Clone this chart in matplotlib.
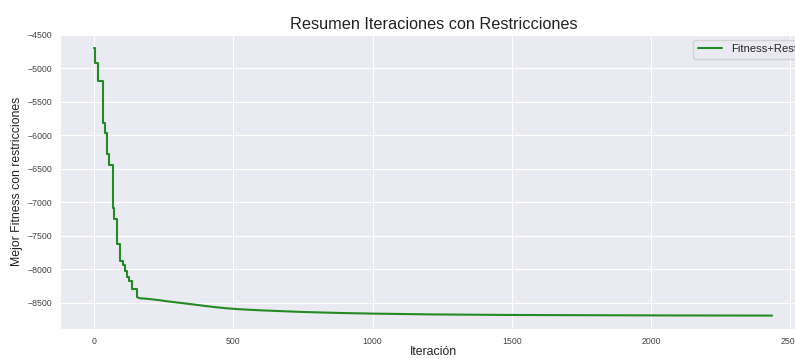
import numpy as np
import seaborn as sns
from matplotlib import pyplot as plt

#Best fitness (with restrictions): big jumps in the first iterations
iter_saltos = [0, 5, 15, 31, 41, 47, 53, 67, 73, 81, 95, 105, 111, 118, 127,
               136, 156]
fit_saltos = [-4690, -4922, -5187, -5810, -5973, -6276, -6450, -7087, -7250,
              -7620, -7869, -7933, -8018, -8107, -8167, -8296, -8415]

#Slow improvement afterwards
iter_cola = [156, 162, 192, 234, 264, 320, 383, 430, 473, 520, 600, 742,
             870, 993, 1200, 1459, 1817, 2100, 2434]
fit_cola = [-8415, -8430, -8440, -8460, -8478, -8505, -8538, -8562, -8580,
            -8595, -8612, -8635, -8650, -8660, -8672, -8680, -8685, -8688,
            -8690]

sns.set_style('darkgrid')
plt.rcParams['font.family'] = ['Liberation Sans', 'DejaVu Sans']

fig = plt.figure(figsize=(7.95, 3.59), dpi=100)
ax = fig.add_axes([0.0755, 0.0836, 0.9405, 0.8214])

verde = '#238b23'
ax.plot(iter_saltos, fit_saltos, color=verde, linewidth=1.5,
        drawstyle='steps-post', label='Fitness+Rest')
ax.plot(iter_cola, fit_cola, color=verde, linewidth=1.5)

ax.set_xlim(-122, 2562)
ax.set_ylim(-8890, -4490)
ax.set_xticks([0, 500, 1000, 1500, 2000, 2500])
ax.set_yticks(np.arange(-8500, -4499, 500))
ax.tick_params(labelsize=6.3, colors='#444444', pad=2)

#Labels and title
ax.set_xlabel('Iteración', fontsize=8.8, color='#222222', labelpad=0)
ax.set_ylabel('Mejor Fitness con restricciones', fontsize=8.8,
              color='#222222', labelpad=3)
ax.set_title('Resumen Iteraciones con Restricciones', fontsize=11.7,
             color='#222222', pad=4)

ax.legend(loc='upper right', fontsize=8.1, handlelength=2.2,
          borderaxespad=0.5)

plt.savefig('out.png', dpi=100)
